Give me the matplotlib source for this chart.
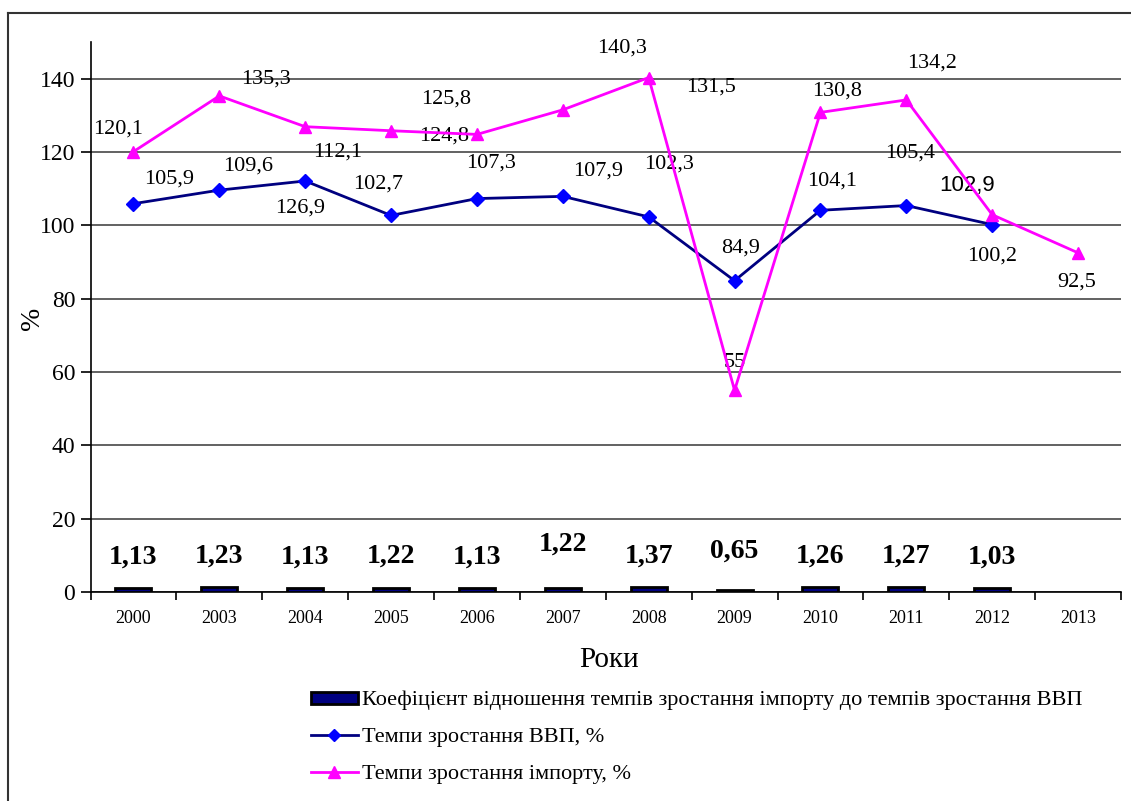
import matplotlib
matplotlib.use("Agg")
import matplotlib.pyplot as plt
from matplotlib.lines import Line2D
from matplotlib.patches import Patch
import numpy as np

# ---- data ----
years = ["2000", "2003", "2004", "2005", "2006", "2007", "2008", "2009", "2010", "2011", "2012", "2013"]
ratio = [1.13, 1.23, 1.13, 1.22, 1.13, 1.22, 1.37, 0.65, 1.26, 1.27, 1.03]
gdp = [105.9, 109.6, 112.1, 102.7, 107.3, 107.9, 102.3, 84.9, 104.1, 105.4, 100.2]
imports = [120.1, 135.3, 126.9, 125.8, 124.8, 131.5, 140.3, 55, 130.8, 134.2, 102.9, 92.5]
ratio_labels = ["1,13", "1,23", "1,13", "1,22", "1,13", "1,22", "1,37", "0,65", "1,26", "1,27", "1,03"]
gdp_labels = ["105,9", "109,6", "112,1", "102,7", "107,3", "107,9", "102,3", "84,9", "104,1", "105,4", "100,2"]
imp_labels = ["120,1", "135,3", "126,9", "125,8", "124,8", "131,5", "140,3", "55", "130,8", "134,2", "102,9", "92,5"]
yticks = [0, 20, 40, 60, 80, 100, 120, 140]

legend_labels = [
    "Коефіцієнт відношення темпів зростання імпорту до темпів зростання ВВП",
    "Темпи зростання ВВП, %",
    "Темпи зростання імпорту, %",
]

# ---- label placement (pixel offsets, styling only) ----
imp_off = [(-15, 23), (47, 17), (-5, -81), (55, 32), (-33, -2), (148, 23),
           (-27, 30), (0, 28), (17, 21), (26, 37), (-25, 29), (-1, -29)]
gdp_off = [(36, 25), (29, 24), (32, 29), (-13, 31), (14, 36), (35, 25),
           (20, 53), (6, 33), (12, 29), (4, 52), (0, -31)]
ratio_off = [31, 31, 31, 31, 31, 43, 31, 38, 31, 31, 31]

SERIF = "Liberation Serif"
SANS = "Liberation Sans"
plt.rcParams["font.family"] = [SERIF, "DejaVu Serif"]

fig = plt.figure(figsize=(11.31, 8.01), dpi=100)
ax = fig.add_axes([90.5 / 1131, 1 - 592 / 801, (1121 - 90.5) / 1131, (592 - 42) / 801])

x = np.arange(len(years))
xr = x[:len(ratio)]
xg = x[:len(gdp)]

ax.set_xlim(-0.5, len(years) - 0.5)
ax.set_ylim(0, 150)
ax.set_yticks(yticks)
ax.set_yticklabels([str(v) for v in yticks], fontsize=17)
ax.set_xticks(x)
ax.set_xticklabels(years, fontsize=13)
ax.set_xticks(np.arange(-0.5, len(years), 1.0), minor=True)
ax.tick_params(axis="x", which="major", length=0, pad=13)
ax.tick_params(axis="x", which="minor", length=6, width=1.2, direction="out")
ax.tick_params(axis="y", length=7, width=1.2, pad=4)

for s in ["top", "right"]:
    ax.spines[s].set_visible(False)
for s in ["left", "bottom"]:
    ax.spines[s].set_linewidth(1.2)

ax.yaxis.grid(True, color="#555555", linewidth=1.3)
ax.set_axisbelow(True)

bars = ax.bar(xr, ratio, width=0.42, color="#000080", edgecolor="black", linewidth=2, zorder=3)
ax.plot(xg, gdp, color="#000080", linewidth=2, marker="D", markersize=7,
        markerfacecolor="#0000FF", markeredgecolor="#0000FF", zorder=4)
ax.plot(x, imports, color="#FF00FF", linewidth=2, marker="^", markersize=9,
        markerfacecolor="#FF00FF", markeredgecolor="#FF00FF", zorder=5)

for xi, v, lab, dy in zip(xr, ratio, ratio_labels, ratio_off):
    ax.annotate(lab, (xi, v), xytext=(0, dy), textcoords="offset pixels",
                ha="center", va="center", fontsize=20, fontweight="bold")
for xi, v, lab, (dx, dy) in zip(xg, gdp, gdp_labels, gdp_off):
    ax.annotate(lab, (xi, v), xytext=(dx, dy), textcoords="offset pixels",
                ha="center", va="center", fontsize=16)
for i, (xi, v, lab, (dx, dy)) in enumerate(zip(x, imports, imp_labels, imp_off)):
    fam = [SANS] if i == 10 else [SERIF]
    ax.annotate(lab, (xi, v), xytext=(dx, dy), textcoords="offset pixels",
                ha="center", va="center", fontsize=16, family=fam)

fig.text(609 / 1131, 1 - 660 / 801, "Роки", ha="center", va="center", fontsize=21)
fig.text(33 / 1131, 1 - 318 / 801, "%", ha="center", va="center", fontsize=20, rotation=90)

handles = [
    Patch(facecolor="#000080", edgecolor="black", linewidth=2),
    Line2D([], [], color="#000080", linewidth=2, marker="D", markersize=6,
           markerfacecolor="#0000FF", markeredgecolor="#0000FF"),
    Line2D([], [], color="#FF00FF", linewidth=2, marker="^", markersize=8,
           markerfacecolor="#FF00FF", markeredgecolor="#FF00FF"),
]
fig.legend(handles, legend_labels, loc="upper left", bbox_to_anchor=(311 / 1131, 1 - 691 / 801),
           frameon=False, fontsize=16, handlelength=2.1, handleheight=0.45, handletextpad=0.2,
           labelspacing=0.8, borderpad=0, borderaxespad=0)

# outer frame lines
fig.add_artist(Line2D([8 / 1131, 8 / 1131], [0, 1 - 13 / 801], transform=fig.transFigure,
                      color="#333333", linewidth=1.5))
fig.add_artist(Line2D([8 / 1131, 1], [1 - 13 / 801, 1 - 13 / 801], transform=fig.transFigure,
                      color="#333333", linewidth=1.5))

fig.savefig("out.png", dpi=100)
